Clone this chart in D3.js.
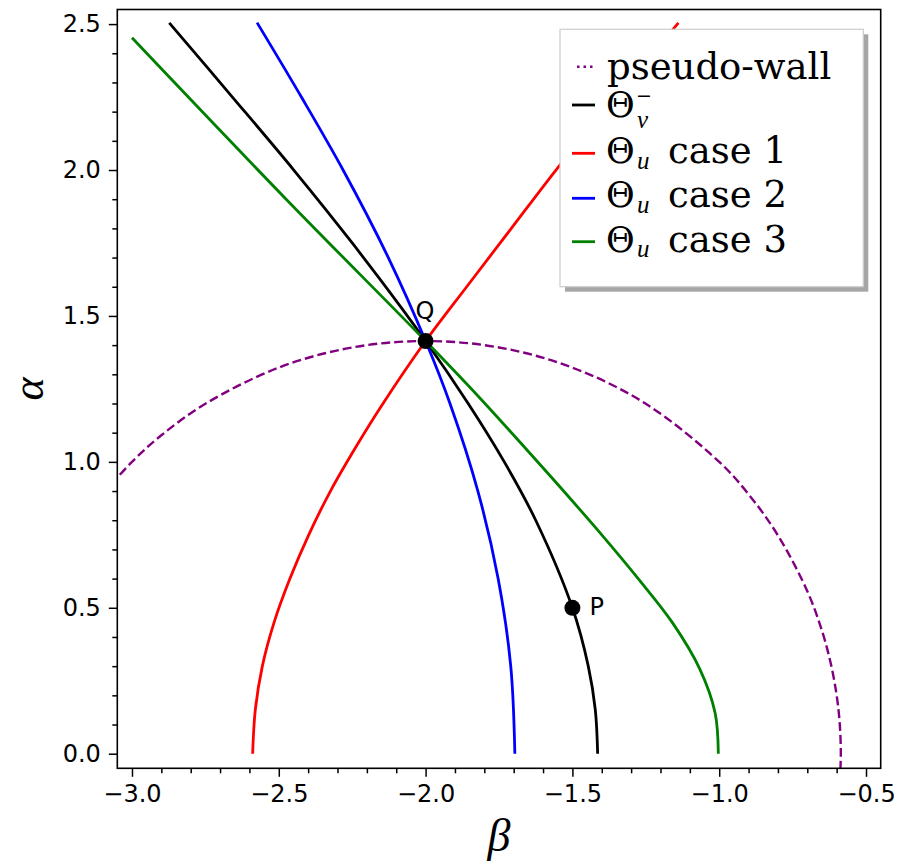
<!DOCTYPE html>
<html>
<head>
<meta charset="utf-8">
<script src="https://cdn.jsdelivr.net/npm/d3@7"></script>
<style>
  body { margin: 0; background: #fff; }
  svg { display: block; }
  .tick text { font-family: 'DejaVu Sans', sans-serif; font-size: 24px; fill: #000; }
  .tick line { stroke: #000; stroke-width: 1.5; }
</style>
</head>
<body>
<div id="chart"></div>
<script>
// curves as [beta, alpha] pairs
const pseudoWall = [[-3.1, 0.889], [-3.0, 1.0], [-2.9, 1.091], [-2.75, 1.199], [-2.5, 1.323], [-2.25, 1.392],
  [-2.0, 1.414], [-1.75, 1.392], [-1.5, 1.323], [-1.25, 1.199], [-1.0, 1.0], [-0.9, 0.889], [-0.8, 0.748],
  [-0.7, 0.557], [-0.65, 0.421], [-0.62, 0.309], [-0.6, 0.2], [-0.59, 0.109], [-0.5858, 0], [-0.59, -0.109]];
const thetaV = [[-2.873, 2.504], [-2.658, 2.25], [-2.449, 2.0], [-2.25, 1.75], [-2.0, 1.414], [-1.855, 1.2],
  [-1.732, 1.0], [-1.625, 0.8], [-1.5, 0.5], [-1.446, 0.3], [-1.422, 0.15], [-1.414, 0]];
const caseOne = [[-2.589, 0], [-2.580, 0.15], [-2.556, 0.3], [-2.516, 0.45], [-2.462, 0.6], [-2.398, 0.75],
  [-2.324, 0.9], [-2.238, 1.05], [-2.145, 1.2], [-2.0, 1.414], [-1.86, 1.6], [-1.708, 1.8], [-1.556, 2.0],
  [-1.394, 2.2], [-1.226, 2.4], [-1.139, 2.504]];
const caseTwo = [[-1.696, 0], [-1.710, 0.3], [-1.753, 0.6], [-1.822, 0.9], [-1.917, 1.2], [-2.0, 1.414],
  [-2.127, 1.7], [-2.281, 2.0], [-2.423, 2.25], [-2.574, 2.505]];
const caseThree = [[-3.0, 2.453], [-2.475, 1.9], [-2.0, 1.414], [-1.82, 1.224], [-1.663, 1.05], [-1.53, 0.9],
  [-1.4, 0.75], [-1.276, 0.6], [-1.16, 0.45], [-1.066, 0.29], [-1.014, 0.14], [-1.003, 0]];

const markedPoints = [
  { name: 'Q', beta: -2.0, alpha: 1.414 },
  { name: 'P', beta: -1.5, alpha: 0.5 }
];

const xTicks = [-3.0, -2.5, -2.0, -1.5, -1.0, -0.5];
const yTicks = [0.0, 0.5, 1.0, 1.5, 2.0, 2.5];
const xDomain = [-3.05, -0.45];
const yDomain = [-0.05, 2.55];

const width = 899, height = 865;
const margin = { top: 9.5, left: 117.3, right: 18.3, bottom: 96.7 };
const plotW = width - margin.left - margin.right;
const plotH = height - margin.top - margin.bottom;

const svg = d3.select('#chart').append('svg')
  .attr('width', width).attr('height', height);

const x = d3.scaleLinear().domain(xDomain).range([margin.left, margin.left + plotW]);
const y = d3.scaleLinear().domain(yDomain).range([margin.top + plotH, margin.top]);

svg.append('clipPath').attr('id', 'plot-clip')
  .append('rect')
  .attr('x', margin.left).attr('y', margin.top)
  .attr('width', plotW).attr('height', plotH);

// minor ticks every 0.1
const xMinor = d3.range(-30, -4).filter(d => d % 5 !== 0).map(d => d / 10);
const yMinor = d3.range(0, 26).filter(d => d % 5 !== 0).map(d => d / 10);

const fmt = d3.format('.1f');

svg.append('g')
  .attr('transform', `translate(0,${margin.top + plotH})`)
  .call(d3.axisBottom(x).tickValues(xMinor).tickSize(5).tickSizeOuter(0).tickFormat(''))
  .call(g => g.select('.domain').remove());
svg.append('g')
  .attr('transform', `translate(${margin.left},0)`)
  .call(d3.axisLeft(y).tickValues(yMinor).tickSize(5).tickSizeOuter(0).tickFormat(''))
  .call(g => g.select('.domain').remove());

svg.append('g')
  .attr('transform', `translate(0,${margin.top + plotH})`)
  .call(d3.axisBottom(x).tickValues(xTicks).tickSize(8.5).tickPadding(8).tickSizeOuter(0).tickFormat(fmt))
  .call(g => g.select('.domain').remove())
  .call(g => g.selectAll('text').attr('dy', '0.71em'));
svg.append('g')
  .attr('transform', `translate(${margin.left},0)`)
  .call(d3.axisLeft(y).tickValues(yTicks).tickSize(8.5).tickPadding(8).tickSizeOuter(0).tickFormat(fmt))
  .call(g => g.select('.domain').remove());

// curves
const line = d3.line()
  .x(d => x(d[0]))
  .y(d => y(d[1]))
  .curve(d3.curveCatmullRom.alpha(0.5));

const series = [
  { data: pseudoWall, color: '#800080', w: 2.4, dash: '9,4' },
  { data: thetaV, color: '#000000', w: 2.8 },
  { data: caseOne, color: '#ff0000', w: 2.8 },
  { data: caseTwo, color: '#0000ff', w: 2.8 },
  { data: caseThree, color: '#008000', w: 2.8 }
];

const curves = svg.append('g').attr('clip-path', 'url(#plot-clip)');
curves.selectAll('path')
  .data(series)
  .join('path')
  .attr('d', d => line(d.data))
  .attr('fill', 'none')
  .attr('stroke', d => d.color)
  .attr('stroke-width', d => d.w)
  .attr('stroke-dasharray', d => d.dash || null);

// marked points
const pts = svg.append('g');
pts.selectAll('circle')
  .data(markedPoints)
  .join('circle')
  .attr('cx', d => x(d.beta))
  .attr('cy', d => y(d.alpha))
  .attr('r', 8)
  .attr('fill', '#000');
pts.selectAll('text')
  .data(markedPoints)
  .join('text')
  .attr('x', d => x(d.beta) + (d.name === 'Q' ? -10 : 17))
  .attr('y', d => y(d.alpha) + (d.name === 'Q' ? -22 : 7))
  .attr('font-family', 'DejaVu Sans, sans-serif')
  .attr('font-size', 24)
  .text(d => d.name);

// frame
svg.append('rect')
  .attr('x', margin.left).attr('y', margin.top)
  .attr('width', plotW).attr('height', plotH)
  .attr('fill', 'none').attr('stroke', '#000').attr('stroke-width', 1.6);

// axis labels
svg.append('text')
  .attr('x', margin.left + plotW / 2).attr('y', 851)
  .attr('text-anchor', 'middle')
  .attr('font-family', 'Liberation Serif, serif').attr('font-style', 'italic')
  .attr('font-size', 46)
  .text('β');
svg.append('text')
  .attr('transform', `translate(43,${margin.top + plotH / 2}) rotate(-90)`)
  .attr('text-anchor', 'middle')
  .attr('font-family', 'Liberation Serif, serif').attr('font-style', 'italic')
  .attr('font-size', 44)
  .text('α');

// legend
const legend = svg.append('g');
const lx = 560, ly = 29.3, lw = 303.3, lh = 257.4;
legend.append('rect')
  .attr('x', lx + 5).attr('y', ly + 5).attr('width', lw).attr('height', lh)
  .attr('fill', '#a6a6a6');
legend.append('rect')
  .attr('x', lx).attr('y', ly).attr('width', lw).attr('height', lh)
  .attr('fill', '#fff').attr('stroke', '#cccccc').attr('stroke-width', 1.2);

const legendRows = [
  { color: '#800080', hy: 66.7, base: 79.3, main: 'pseudo-wall', dotted: true },
  { color: '#000000', hy: 105, base: 116.7, sub: 'v', subBase: 127.5, sup: '−' },
  { color: '#ff0000', hy: 153.3, base: 163.3, sub: 'u', subBase: 168.5, rest: 'case 1' },
  { color: '#0000ff', hy: 198.3, base: 206.7, sub: 'u', subBase: 212.5, rest: 'case 2' },
  { color: '#008000', hy: 241.7, base: 251.7, sub: 'u', subBase: 257.3, rest: 'case 3' }
];

legendRows.forEach(r => {
  legend.append('line')
    .attr('x1', r.dotted ? 577 : 572).attr('x2', 595)
    .attr('y1', r.hy).attr('y2', r.hy)
    .attr('stroke', r.color)
    .attr('stroke-width', r.dotted ? 2.4 : 2.8)
    .attr('stroke-dasharray', r.dotted ? '2.5,4' : null);
  if (r.main) {
    legend.append('text')
      .attr('x', 607).attr('y', r.base)
      .attr('font-family', 'DejaVu Serif, serif').attr('font-size', 37)
      .text(r.main);
    return;
  }
  legend.append('text')
    .attr('x', 606).attr('y', r.base)
    .attr('font-family', 'DejaVu Serif, serif').attr('font-size', 35)
    .text('Θ');
  legend.append('text')
    .attr('x', 637).attr('y', r.subBase)
    .attr('font-family', 'Liberation Serif, serif').attr('font-style', 'italic')
    .attr('font-size', 25)
    .text(r.sub);
  if (r.sup) {
    legend.append('text')
      .attr('x', 636).attr('y', 102)
      .attr('font-family', 'DejaVu Sans, sans-serif').attr('font-size', 19)
      .text(r.sup);
  }
  if (r.rest) {
    legend.append('text')
      .attr('x', 668).attr('y', r.base)
      .attr('font-family', 'DejaVu Serif, serif').attr('font-size', 37)
      .text(r.rest);
  }
});
</script>
</body>
</html>
